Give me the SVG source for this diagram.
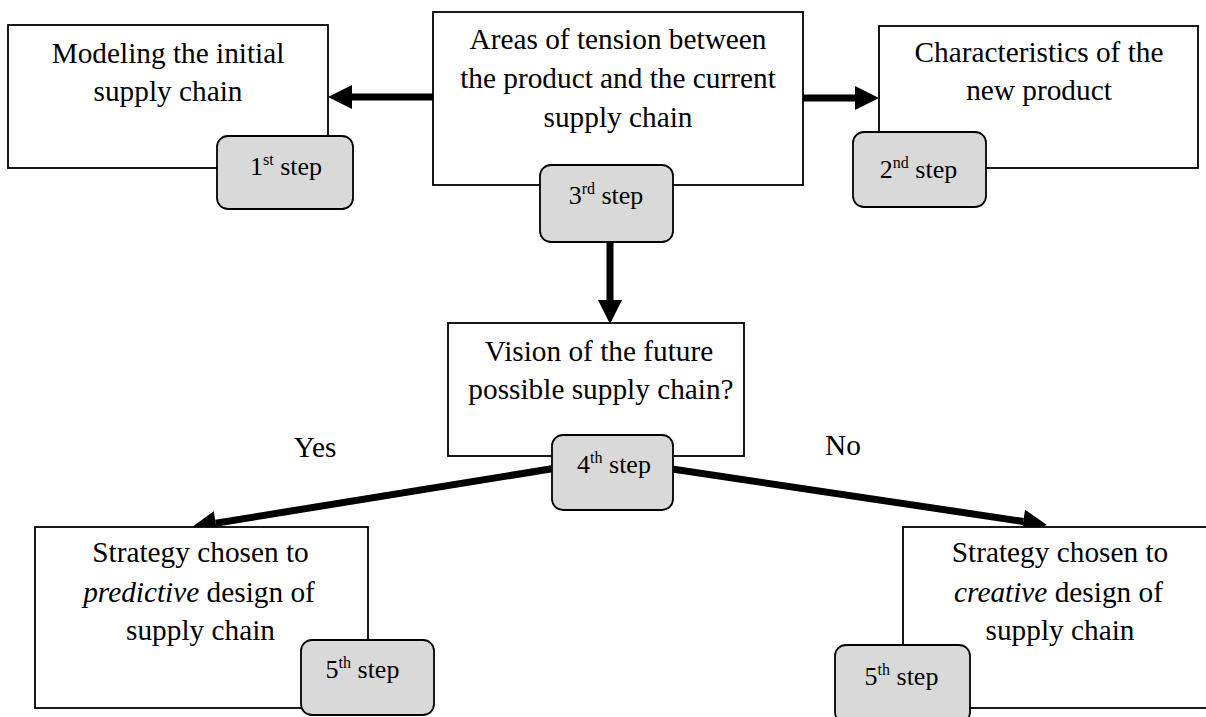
<svg xmlns="http://www.w3.org/2000/svg" width="1206" height="717" viewBox="0 0 1206 717">
<style>
.t{font-size:29.3px;text-anchor:middle}
.s{font-size:26px;text-anchor:middle}
.sup{font-size:16px}
.box{fill:#fff;stroke:#000;stroke-width:1.8}
.badge{fill:#d9d9d9;stroke:#000;stroke-width:1.8}
.conn{stroke:#000;stroke-width:7;fill:none}
</style>
<defs>
<marker id="ah" markerUnits="userSpaceOnUse" markerWidth="24" markerHeight="24" refX="0" refY="12" orient="auto" overflow="visible">
<path d="M0,0 L24,12 L0,24 Z" fill="#000"/>
</marker>
</defs>
<rect width="1206" height="717" fill="#fff"/>
<g id="connectors">
<line class="conn" x1="433" y1="97" x2="352" y2="97" marker-end="url(#ah)"/>
<line class="conn" x1="803" y1="98" x2="855" y2="98" marker-end="url(#ah)"/>
<line class="conn" x1="610" y1="242" x2="610" y2="300" marker-end="url(#ah)"/>
<line class="conn" x1="612" y1="459" x2="215.7" y2="523.2" marker-end="url(#ah)"/>
<line class="conn" x1="612" y1="460" x2="1023.3" y2="521.5" marker-end="url(#ah)"/>
</g>
<g id="labels">
<text class="t" font-family="Liberation Serif" x="315" y="457">Yes</text>
<text class="t" font-family="Liberation Serif" x="843" y="455">No</text>
</g>
<g id="step1">
<rect class="box" x="8" y="25" width="320" height="143"/>
<text class="t" font-family="Liberation Serif" x="168" y="63">Modeling the initial</text>
<text class="t" font-family="Liberation Serif" x="168" y="101">supply chain</text>
<rect class="badge" x="217" y="136" width="136" height="73" rx="11"/>
<text class="s" font-family="Liberation Serif" x="286" y="175">1<tspan class="sup" dy="-10">st</tspan><tspan dy="10"> step</tspan></text>
</g>
<g id="step3">
<rect class="box" x="433" y="12" width="370" height="173"/>
<text class="t" font-family="Liberation Serif" x="618" y="48.5">Areas of tension between</text>
<text class="t" font-family="Liberation Serif" x="618" y="87.5">the product and the current</text>
<text class="t" font-family="Liberation Serif" x="618" y="127">supply chain</text>
<rect class="badge" x="540" y="165" width="133" height="77" rx="11"/>
<text class="s" font-family="Liberation Serif" x="606" y="204">3<tspan class="sup" dy="-10">rd</tspan><tspan dy="10"> step</tspan></text>
</g>
<g id="step2">
<rect class="box" x="879" y="26" width="319" height="142"/>
<text class="t" font-family="Liberation Serif" x="1039" y="62">Characteristics of the</text>
<text class="t" font-family="Liberation Serif" x="1039" y="99.5">new product</text>
<rect class="badge" x="853" y="132" width="133" height="75" rx="11"/>
<text class="s" font-family="Liberation Serif" x="918.5" y="178">2<tspan class="sup" dy="-10">nd</tspan><tspan dy="10"> step</tspan></text>
</g>
<g id="step4">
<rect class="box" x="448" y="323" width="296" height="133"/>
<text class="t" font-family="Liberation Serif" x="599" y="361">Vision of the future</text>
<text class="t" font-family="Liberation Serif" x="601" y="399">possible supply chain?</text>
<rect class="badge" x="552" y="435" width="121" height="75" rx="11"/>
<text class="s" font-family="Liberation Serif" x="614" y="473">4<tspan class="sup" dy="-10">th</tspan><tspan dy="10"> step</tspan></text>
</g>
<g id="step5-predictive">
<rect class="box" x="35" y="527" width="333" height="181"/>
<text class="t" font-family="Liberation Serif" x="200.5" y="562">Strategy chosen to</text>
<text class="t" font-family="Liberation Serif" x="199" y="602"><tspan font-style="italic">predictive</tspan> design of</text>
<text class="t" font-family="Liberation Serif" x="200.5" y="640">supply chain</text>
<rect class="badge" x="301" y="640" width="133" height="75" rx="11"/>
<text class="s" font-family="Liberation Serif" x="362.5" y="678">5<tspan class="sup" dy="-10">th</tspan><tspan dy="10"> step</tspan></text>
</g>
<g id="step5-creative">
<rect class="box" x="903" y="527" width="310" height="181"/>
<text class="t" font-family="Liberation Serif" x="1060" y="562">Strategy chosen to</text>
<text class="t" font-family="Liberation Serif" x="1058.5" y="602"><tspan font-style="italic">creative</tspan> design of</text>
<text class="t" font-family="Liberation Serif" x="1060" y="640">supply chain</text>
<rect class="badge" x="835" y="645" width="135" height="78" rx="11"/>
<text class="s" font-family="Liberation Serif" x="901.5" y="685">5<tspan class="sup" dy="-10">th</tspan><tspan dy="10"> step</tspan></text>
</g>
</svg>
